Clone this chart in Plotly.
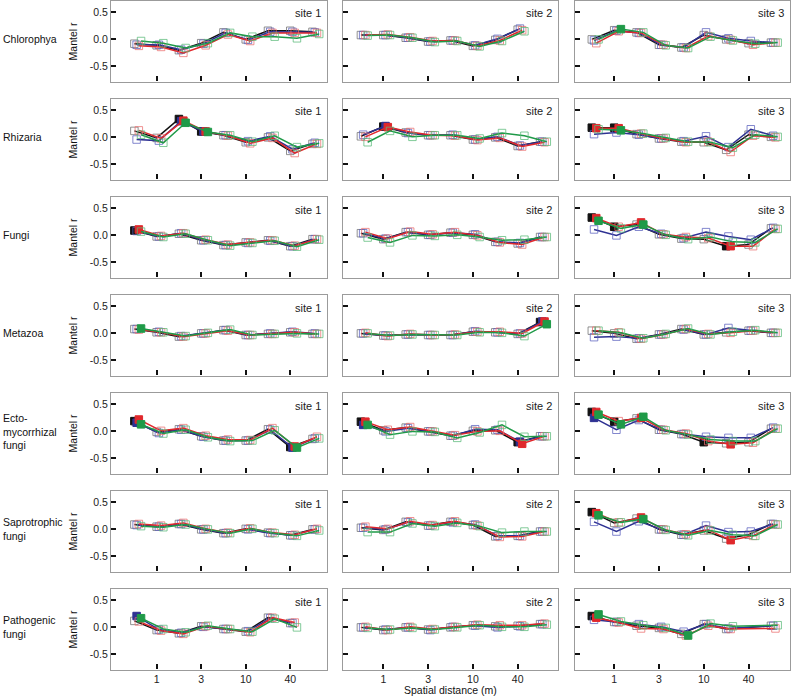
import plotly.graph_objects as go

# ---------------- data ----------------
groups = ["Chlorophya", "Rhizaria", "Fungi", "Metazoa",
          "Ecto-<br>mycorrhizal<br>fungi", "Saprotrophic<br>fungi", "Pathogenic<br>fungi"]
sites = ["site 1", "site 2", "site 3"]
series_names = ["set 1", "set 2", "set 3", "set 4"]          # black, blue, red, green
dist_class = [0, 1, 2, 3, 4, 5, 6, 7, 8]                       # distance class index
tick_idx = [1, 3, 5, 7]
tick_labels = ["1", "3", "10", "40"]

# each panel: [black, blue, red, green]; *_sig: indices with significant Mantel r (filled)
chlorophya_site1 = [[-0.08, -0.11, -0.20, -0.07, 0.13, 0.00, 0.16, 0.16, 0.14],
                    [-0.10, -0.10, -0.19, -0.08, 0.12, -0.01, 0.14, 0.14, 0.13],
                    [-0.12, -0.14, -0.25, -0.11, 0.09, -0.03, 0.12, 0.12, 0.12],
                    [-0.03, -0.07, -0.16, -0.07, 0.12, 0.05, 0.05, 0.02, 0.10]]
chlorophya_site1_sig = [[], [], [], []]
chlorophya_site2 = [[0.08, 0.08, 0.03, -0.04, -0.02, -0.12, -0.01, 0.18],
                    [0.08, 0.08, 0.03, -0.04, -0.02, -0.11, 0.01, 0.20],
                    [0.08, 0.09, 0.04, -0.03, -0.02, -0.12, -0.02, 0.17],
                    [0.07, 0.08, 0.03, -0.05, -0.03, -0.13, -0.03, 0.15]]
chlorophya_site2_sig = [[], [], [], []]
chlorophya_site3 = [[0.00, 0.17, 0.13, -0.10, -0.15, 0.08, 0.00, -0.07, -0.06],
                    [-0.02, 0.16, 0.12, -0.10, -0.15, 0.13, 0.02, -0.03, -0.06],
                    [-0.07, 0.15, 0.12, -0.10, -0.16, 0.06, -0.01, -0.10, -0.06],
                    [0.00, 0.19, 0.13, -0.11, -0.16, 0.05, -0.02, -0.08, -0.06]]
chlorophya_site3_sig = [[], [], [], [1]]

rhizaria_site1 = [[0.12, -0.01, 0.34, 0.11, 0.04, -0.09, 0.00, -0.25, -0.12],
                  [-0.04, -0.06, 0.30, 0.11, 0.04, -0.07, 0.02, -0.22, -0.10],
                  [0.13, -0.02, 0.31, 0.11, 0.03, -0.11, -0.01, -0.29, -0.12],
                  [0.05, -0.10, 0.27, 0.10, 0.04, -0.08, 0.03, -0.18, -0.11]]
rhizaria_site1_sig = [[2, 3], [2, 3], [2, 3], [2, 3]]
rhizaria_site2 = [[0.02, 0.20, 0.09, 0.04, 0.04, -0.04, 0.00, -0.16, -0.08],
                  [0.05, 0.21, 0.08, 0.04, 0.05, -0.04, 0.01, -0.15, -0.08],
                  [0.01, 0.19, 0.10, 0.04, 0.03, -0.05, -0.01, -0.17, -0.09],
                  [-0.09, 0.12, 0.01, 0.04, 0.04, -0.02, 0.08, 0.03, -0.08]]
rhizaria_site2_sig = [[1], [1], [1], []]
rhizaria_site3 = [[0.18, 0.18, 0.06, -0.02, -0.08, -0.09, -0.23, 0.05, 0.01],
                  [0.06, 0.09, 0.05, -0.02, -0.07, 0.02, -0.18, 0.15, 0.03],
                  [0.17, 0.17, 0.07, -0.02, -0.09, -0.08, -0.27, 0.03, 0.00],
                  [0.15, 0.13, 0.07, -0.01, -0.08, -0.09, -0.19, 0.05, 0.01]]
rhizaria_site3_sig = [[0, 1], [], [0, 1], [1]]

fungi_site1 = [[0.09, -0.02, 0.03, -0.09, -0.18, -0.13, -0.09, -0.20, -0.07],
               [0.08, -0.02, 0.04, -0.09, -0.18, -0.14, -0.10, -0.20, -0.07],
               [0.11, -0.01, 0.04, -0.08, -0.17, -0.13, -0.09, -0.19, -0.07],
               [0.07, -0.03, 0.03, -0.09, -0.19, -0.14, -0.10, -0.21, -0.08]]
fungi_site1_sig = [[0], [], [0], []]
fungi_site2 = [[0.04, -0.07, 0.06, 0.01, 0.05, 0.01, -0.12, -0.15, -0.03],
               [0.04, -0.06, 0.06, 0.01, 0.05, 0.02, -0.12, -0.14, -0.03],
               [0.06, -0.06, 0.07, 0.02, 0.06, 0.00, -0.13, -0.17, -0.03],
               [-0.04, -0.13, 0.00, -0.01, 0.01, -0.03, -0.09, -0.08, -0.03]]
fungi_site2_sig = [[], [], [], []]
fungi_site3 = [[0.33, 0.16, 0.20, 0.02, -0.06, -0.07, -0.20, -0.17, 0.13],
               [0.11, 0.00, 0.16, 0.03, -0.05, 0.06, -0.02, -0.08, 0.14],
               [0.32, 0.16, 0.24, 0.02, -0.03, -0.05, -0.20, -0.20, 0.12],
               [0.27, 0.13, 0.20, 0.01, -0.07, -0.03, -0.12, -0.13, 0.12]]
fungi_site3_sig = [[0, 1, 6], [], [0, 2, 6], [0, 2]]

metazoa_site1 = [[0.08, 0.02, -0.06, 0.00, 0.06, -0.03, -0.01, 0.02, -0.01],
                 [0.08, 0.03, -0.05, 0.00, 0.06, -0.03, 0.00, 0.03, 0.00],
                 [0.07, 0.02, -0.06, 0.00, 0.05, -0.03, -0.01, 0.02, -0.01],
                 [0.09, 0.02, -0.05, 0.01, 0.07, -0.03, -0.01, 0.00, -0.01]]
metazoa_site1_sig = [[], [], [], [0]]
metazoa_site2 = [[0.00, -0.04, -0.02, -0.03, -0.03, 0.03, 0.02, -0.01, 0.21],
                 [0.00, -0.04, -0.02, -0.03, -0.03, 0.04, 0.02, 0.00, 0.22],
                 [0.01, -0.05, -0.01, -0.03, -0.02, 0.03, 0.03, 0.00, 0.22],
                 [0.00, -0.04, -0.02, -0.03, -0.03, 0.02, 0.01, -0.05, 0.17]]
metazoa_site2_sig = [[8], [8], [8], [8]]
metazoa_site3 = [[0.05, 0.00, -0.10, -0.02, 0.08, -0.02, 0.02, 0.05, 0.01],
                 [-0.07, -0.06, -0.09, -0.02, 0.07, -0.02, 0.10, 0.05, 0.01],
                 [0.05, 0.02, -0.10, -0.02, 0.08, -0.01, 0.01, 0.05, 0.01],
                 [0.05, 0.01, -0.09, -0.01, 0.09, -0.02, 0.03, 0.06, 0.01]]
metazoa_site3_sig = [[], [], [], []]

ecto_site1 = [[0.19, -0.01, 0.04, -0.09, -0.17, -0.17, 0.04, -0.29, -0.14],
              [0.16, -0.03, 0.03, -0.10, -0.17, -0.17, 0.03, -0.30, -0.13],
              [0.22, 0.01, 0.06, -0.08, -0.15, -0.16, 0.06, -0.28, -0.10],
              [0.13, -0.04, 0.03, -0.11, -0.18, -0.17, 0.02, -0.30, -0.13]]
ecto_site1_sig = [[0, 7], [0, 7], [0, 7], [0, 7]]
ecto_site2 = [[0.18, 0.02, 0.07, 0.00, -0.08, 0.01, 0.02, -0.20, -0.09],
              [0.12, 0.00, 0.06, 0.00, -0.08, 0.04, 0.03, -0.19, -0.09],
              [0.18, 0.03, 0.08, 0.00, -0.07, 0.00, 0.01, -0.23, -0.09],
              [0.12, -0.06, 0.00, -0.01, -0.12, -0.02, 0.12, -0.10, -0.09]]
ecto_site2_sig = [[0, 7], [0, 7], [0, 7], [0]]
ecto_site3 = [[0.36, 0.18, 0.24, 0.03, -0.05, -0.20, -0.22, -0.20, 0.05],
              [0.25, 0.03, 0.21, 0.03, -0.05, -0.10, -0.12, -0.12, 0.07],
              [0.36, 0.19, 0.25, 0.03, -0.04, -0.18, -0.24, -0.21, 0.05],
              [0.31, 0.13, 0.27, 0.02, -0.06, -0.15, -0.18, -0.18, 0.05]]
ecto_site3_sig = [[0, 1, 5], [0], [0, 2, 6], [0, 1, 2]]

sapro_site1 = [[0.09, 0.05, 0.10, 0.00, -0.07, 0.01, -0.06, -0.11, 0.00],
               [0.08, 0.05, 0.10, 0.00, -0.07, 0.00, -0.07, -0.11, 0.00],
               [0.10, 0.07, 0.12, 0.01, -0.06, 0.02, -0.06, -0.10, 0.01],
               [0.06, 0.04, 0.09, 0.00, -0.07, 0.01, -0.07, -0.12, -0.02]]
sapro_site1_sig = [[], [], [], []]
sapro_site2 = [[0.03, -0.01, 0.14, 0.07, 0.14, 0.08, -0.13, -0.12, -0.04],
               [0.03, 0.00, 0.13, 0.07, 0.13, 0.09, -0.12, -0.12, -0.04],
               [0.05, 0.01, 0.15, 0.08, 0.15, 0.07, -0.14, -0.13, -0.04],
               [-0.05, -0.05, 0.11, 0.06, 0.12, 0.06, -0.06, -0.04, -0.04]]
sapro_site2_sig = [[], [], [], []]
sapro_site3 = [[0.32, 0.12, 0.20, 0.00, -0.10, -0.02, -0.17, -0.10, 0.10],
               [0.14, -0.04, 0.15, 0.00, -0.10, 0.07, -0.05, -0.04, 0.10],
               [0.30, 0.13, 0.22, 0.00, -0.09, -0.01, -0.20, -0.12, 0.09],
               [0.26, 0.13, 0.19, -0.01, -0.11, -0.02, -0.10, -0.12, 0.09]]
sapro_site3_sig = [[0], [], [0, 2, 6], [0, 2]]

patho_site1 = [[0.12, -0.05, -0.11, 0.02, -0.03, -0.08, 0.18, 0.08],
               [0.21, -0.04, -0.10, 0.01, -0.03, -0.07, 0.17, 0.08],
               [0.11, -0.06, -0.12, 0.02, -0.03, -0.09, 0.18, 0.09],
               [0.17, -0.03, -0.09, 0.03, -0.03, -0.08, 0.16, 0.00]]
patho_site1_sig = [[], [0], [], [0]]
patho_site2 = [[0.00, -0.05, 0.00, -0.04, 0.00, 0.04, 0.02, 0.03, 0.06],
               [0.00, -0.04, 0.00, -0.05, 0.01, 0.03, 0.00, 0.02, 0.06],
               [0.01, -0.05, 0.01, -0.03, 0.01, 0.05, 0.04, 0.04, 0.07],
               [-0.01, -0.04, -0.01, -0.04, 0.00, 0.04, 0.01, 0.01, 0.05]]
patho_site2_sig = [[], [], [], []]
patho_site3 = [[0.21, 0.10, 0.03, -0.01, -0.12, 0.06, -0.03, None, 0.03],
               [0.14, 0.10, 0.06, 0.01, -0.08, 0.06, -0.02, None, 0.03],
               [0.18, 0.09, -0.02, -0.03, -0.15, 0.03, -0.03, None, -0.02],
               [0.24, 0.11, 0.04, -0.01, -0.15, 0.07, 0.02, None, 0.04]]
patho_site3_sig = [[0], [], [0], [0, 4]]

panels = [
    [(chlorophya_site1, chlorophya_site1_sig), (chlorophya_site2, chlorophya_site2_sig), (chlorophya_site3, chlorophya_site3_sig)],
    [(rhizaria_site1, rhizaria_site1_sig), (rhizaria_site2, rhizaria_site2_sig), (rhizaria_site3, rhizaria_site3_sig)],
    [(fungi_site1, fungi_site1_sig), (fungi_site2, fungi_site2_sig), (fungi_site3, fungi_site3_sig)],
    [(metazoa_site1, metazoa_site1_sig), (metazoa_site2, metazoa_site2_sig), (metazoa_site3, metazoa_site3_sig)],
    [(ecto_site1, ecto_site1_sig), (ecto_site2, ecto_site2_sig), (ecto_site3, ecto_site3_sig)],
    [(sapro_site1, sapro_site1_sig), (sapro_site2, sapro_site2_sig), (sapro_site3, sapro_site3_sig)],
    [(patho_site1, patho_site1_sig), (patho_site2, patho_site2_sig), (patho_site3, patho_site3_sig)],
]

# ---------------- style ----------------
W, H = 794, 700
FONT = "Liberation Sans, Arial, sans-serif"
line_colors = ["#111111", "#2e3192", "#e0282c", "#1f9a48"]
open_colors = ["rgba(110,110,110,0.75)", "rgba(90,95,190,0.75)", "rgba(235,110,110,0.75)", "rgba(90,185,120,0.75)"]
dodge = [0.0, 0.1, 0.2, 0.3]
col_px = [(111, 327), (343, 558), (575, 790)]
x_ranges = [[-1.05, 8.65], [-0.8, 8.8], [-0.75, 8.85]]
row_top0, row_pitch, row_h = 0.5, 98.0, 81.0
y_range = [-0.78, 0.72]

fig = go.Figure()
layout = dict(width=W, height=H, margin=dict(l=0, r=0, t=0, b=0),
              paper_bgcolor="white", plot_bgcolor="white", showlegend=False,
              font=dict(family=FONT, size=10.5, color="#222222"))
annotations = []

for r in range(7):
    top = row_top0 + r * row_pitch
    bot = top + row_h
    ydom = [1 - bot / H, 1 - top / H]
    for c in range(3):
        k = r * 3 + c + 1
        xa = "xaxis" if k == 1 else f"xaxis{k}"
        ya = "yaxis" if k == 1 else f"yaxis{k}"
        xref = "x" if k == 1 else f"x{k}"
        yref = "y" if k == 1 else f"y{k}"
        layout[xa] = dict(domain=[col_px[c][0] / W, col_px[c][1] / W], anchor=yref,
                          range=x_ranges[c], showgrid=False, zeroline=False,
                          showline=True, mirror=True, linecolor="#9b9b9b", linewidth=1.3,
                          ticks="inside", ticklen=5, tickwidth=1.6, tickcolor="#111111",
                          tickvals=tick_idx, ticktext=tick_labels,
                          showticklabels=(r == 6), tickfont=dict(size=10.5, color="#222222"))
        layout[ya] = dict(domain=ydom, anchor=xref, range=y_range, showgrid=False,
                          zeroline=False, showline=True, mirror=True, linecolor="#9b9b9b",
                          linewidth=1.3, ticks="inside", ticklen=5, tickwidth=1.6,
                          tickcolor="#111111", tickvals=[-0.5, 0.0, 0.5],
                          ticktext=["-0.5", "0.0", "0.5"], showticklabels=(c == 0),
                          tickfont=dict(size=10.5, color="#222222"))
        vals, sig = panels[r][c]
        for s in range(4):
            ys = vals[s]
            xs = [dist_class[i] + dodge[s] for i in range(len(ys))]
            symbols = ["square" if i in sig[s] else "square-open" for i in range(len(ys))]
            colors = [line_colors[s] if i in sig[s] else open_colors[s] for i in range(len(ys))]
            fig.add_trace(go.Scatter(
                x=xs, y=ys, mode="lines+markers", name=series_names[s],
                connectgaps=True, xaxis=xref, yaxis=yref,
                line=dict(color=line_colors[s], width=1.5),
                marker=dict(symbol=symbols, size=7.5, color=colors,
                            line=dict(color=colors, width=1))))
        # site label
        annotations.append(dict(text=sites[c], xref="paper", yref="paper",
                                x=(col_px[c][1] - 4) / W, y=1 - (top + 13) / H,
                                xanchor="right", yanchor="middle", showarrow=False,
                                font=dict(size=11, color="#222222")))
    # y-level of 0.0 in this row
    y0px = top + (y_range[1] - 0.0) / (y_range[1] - y_range[0]) * row_h
    annotations.append(dict(text=groups[r], xref="paper", yref="paper", x=1 / W,
                            y=1 - y0px / H, xanchor="left", yanchor="middle", align="left",
                            showarrow=False, font=dict(size=10.5, color="#111111")))
    annotations.append(dict(text="Mantel r", xref="paper", yref="paper", x=73 / W,
                            y=1 - (y0px + 2) / H, xanchor="center", yanchor="middle",
                            textangle=-90, showarrow=False,
                            font=dict(size=10.5, color="#111111")))

annotations.append(dict(text="Spatial distance (m)", xref="paper", yref="paper",
                        x=450 / W, y=1 - 690 / H, xanchor="center", yanchor="middle",
                        showarrow=False, font=dict(size=10.5, color="#111111")))
layout["annotations"] = annotations
fig.update_layout(**layout)
fig.write_html("out.html", config={"displayModeBar": False},
               post_script="document.body.style.margin='0px';")
